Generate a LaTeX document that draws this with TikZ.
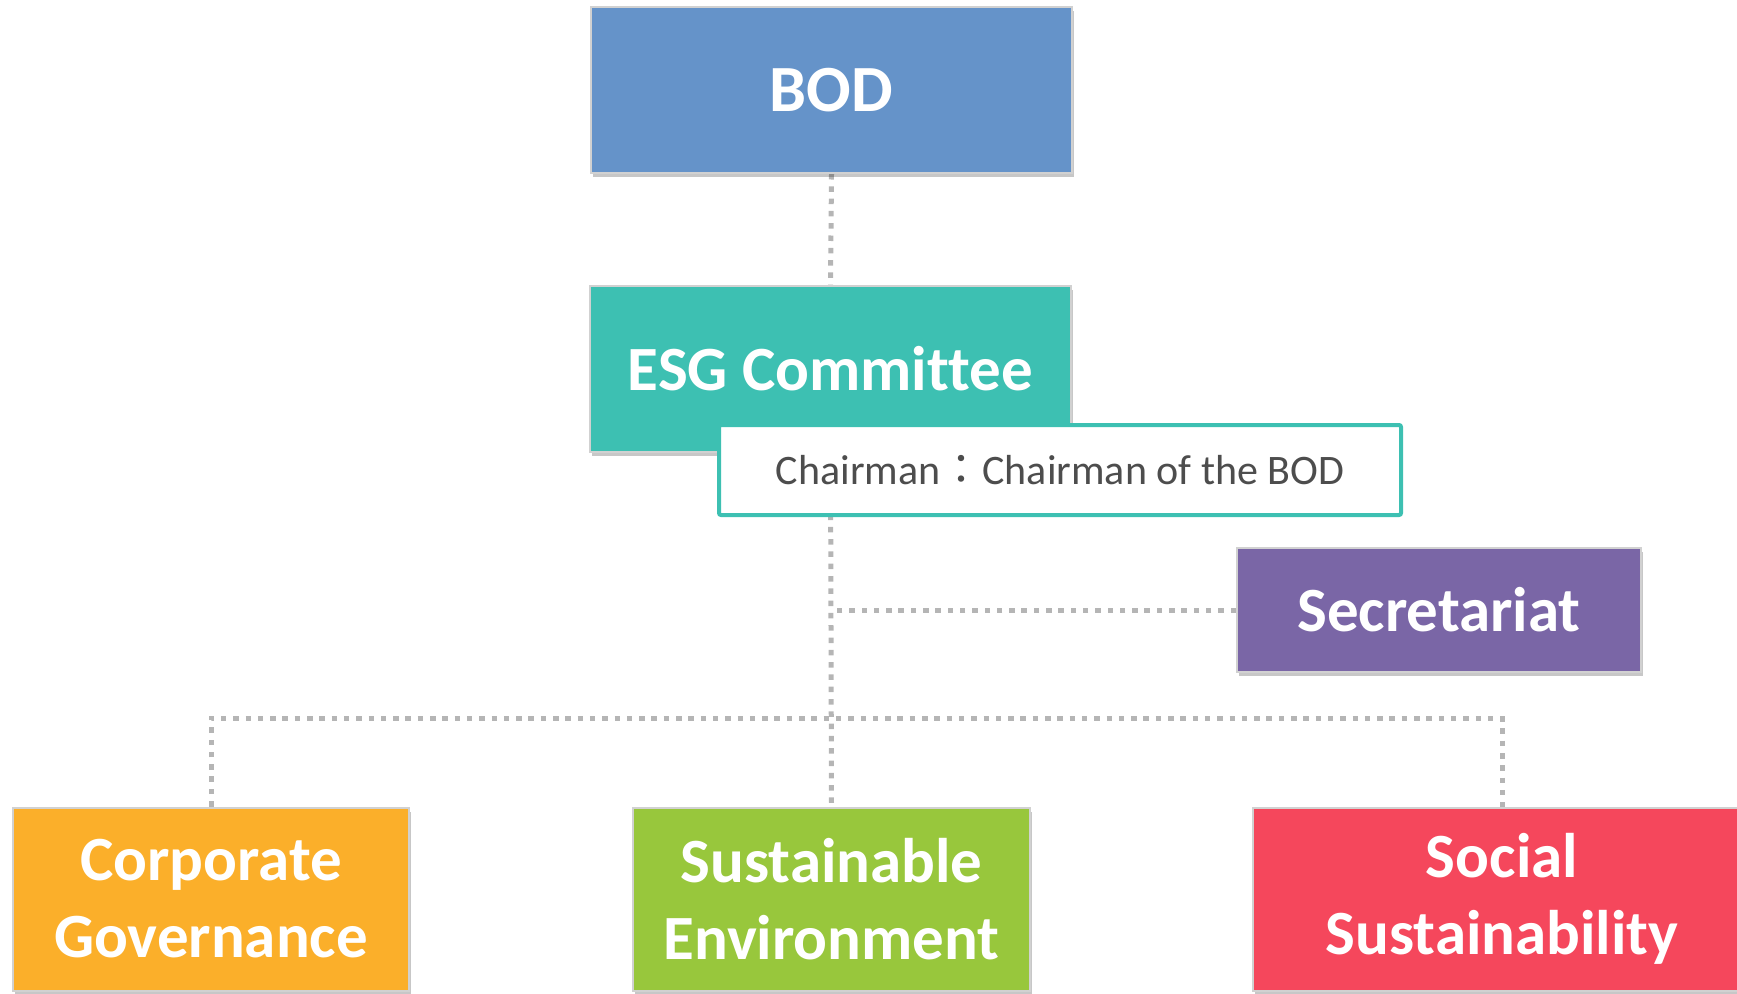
\documentclass[tikz,border=0pt]{standalone}
\usepackage{fontspec}
\setmainfont[Ligatures=NoCommon]{Carlito}
\newfontfamily\cjk{Noto Sans CJK TC}
\usetikzlibrary{shadows,backgrounds}
\definecolor{bodc}{HTML}{6593C9}
\definecolor{esgc}{HTML}{3DC0B2}
\definecolor{secc}{HTML}{7A66A6}
\definecolor{corpc}{HTML}{FBAF2A}
\definecolor{sustc}{HTML}{98C73C}
\definecolor{socc}{HTML}{F5475C}
\definecolor{linec}{HTML}{B5B5B5}
\definecolor{txtc}{HTML}{4D4D4D}
\tikzset{
  orgbox/.style={draw=black!18, line width=2pt, inner sep=0pt, align=center,
    text=white, font=\fontsize{63}{77}\selectfont\bfseries,
    drop shadow={shadow xshift=2pt, shadow yshift=-4pt, fill=black, opacity=0.22}},
  conn/.style={draw=linec, line width=5pt, dash pattern=on 5.5pt off 6.8pt},
  chairbox/.style={draw=esgc, line width=4pt, fill=white, rounded corners=2pt,
    inner sep=0pt, text=txtc, font=\fontsize{42}{50}\selectfont}
}
\begin{document}
\begin{tikzpicture}[x=1pt,y=-1pt]
\useasboundingbox (0,0) rectangle (1737,993);
\node[orgbox, fill=bodc, minimum width=481pt, minimum height=166pt,
  font=\fontsize{66}{76}\selectfont\bfseries] (bod) at (831.5,90) {BOD};
\node[orgbox, fill=esgc, minimum width=481pt, minimum height=166pt] (esg) at (830.5,369) {ESG Committee};
\node[orgbox, fill=secc, minimum width=404pt, minimum height=124pt] (sec) at (1439,610) {Secretariat};
\node[orgbox, fill=corpc, minimum width=396pt, minimum height=183pt] (corp) at (211,899) {Corporate\\Governance};
\node[orgbox, fill=sustc, minimum width=397pt, minimum height=183pt] (sust) at (831.5,899) {Sustainable\\Environment};
\node[orgbox, fill=socc, minimum width=498pt, minimum height=183pt] (soc) at (1502,899) {Social\\Sustainability};
\node[chairbox, minimum width=682pt, minimum height=90pt] (chair) at (1060,470) {Chairman{\cjk ：}Chairman of the BOD};
\coordinate (junc) at (831.5,610);
\coordinate (bus) at (831.5,718);
\begin{scope}[on background layer]
  \draw[conn] (bod.south) -- (esg.north);
  \draw[conn] (esg.south) -- (sust.north);
  \draw[conn] (sec.west) -- (junc);
  \draw[conn] (corp.north) |- (bus) -| (soc.north);
\end{scope}
\end{tikzpicture}
\end{document}
